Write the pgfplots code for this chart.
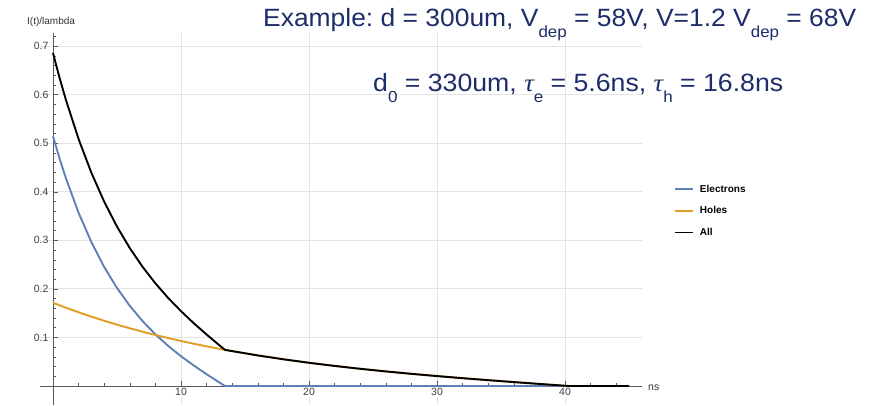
\documentclass[border=0pt]{standalone}
\usepackage{fontspec}
\setmainfont{Liberation Sans}
\newfontfamily\lserif{Liberation Serif}
\usepackage{graphicx}
\usepackage{pgfplots}
\pgfplotsset{compat=1.18}
\frenchspacing
\definecolor{ecol}{HTML}{5E81B5}
\definecolor{hcol}{HTML}{E19C24}
\definecolor{navy}{RGB}{30,45,105}
\definecolor{axcol}{gray}{0.35}
\newcommand{\sub}[1]{\raisebox{-0.42em}{\fontsize{16}{16}\selectfont #1}}
\newcommand{\tauit}{{\lserif\itshape τ}}
\pgfplotstableread{
t I
0 0.51428
0.5 0.46958
1 0.42864
2 0.35670
3 0.29617
4 0.24511
5 0.20188
6 0.16511
7 0.13361
8 0.10640
9 0.08257
10 0.06139
11 0.04218
12 0.02431
13 0.00722
13.428 0
45 0
}\electrons
\pgfplotstableread{
t I
0 0.17143
0.5 0.16632
1 0.16135
2 0.15185
3 0.14288
4 0.13442
5 0.12644
6 0.11890
7 0.11179
8 0.10507
9 0.09872
10 0.09273
11 0.08706
12 0.08170
13 0.07663
13.428 0.07455
14 0.07184
16 0.06299
18 0.05504
20 0.04786
22 0.04137
24 0.03547
26 0.03006
28 0.02509
30 0.02047
32 0.01614
34 0.01203
36 0.00810
38 0.00429
40 0.00053
40.285 0
45 0
}\holes
\pgfplotstableread{
t I
0 0.68571
0.5 0.63590
1 0.58999
2 0.50855
3 0.43905
4 0.37953
5 0.32832
6 0.28401
7 0.24540
8 0.21147
9 0.18129
10 0.15412
11 0.12924
12 0.10601
13 0.08385
13.428 0.07455
14 0.07184
16 0.06299
18 0.05504
20 0.04786
22 0.04137
24 0.03547
26 0.03006
28 0.02509
30 0.02047
32 0.01614
34 0.01203
36 0.00810
38 0.00429
40 0.00053
40.285 0
45 0
}\alltab
\begin{document}
\begin{tikzpicture}[x=1pt,y=1pt]
\useasboundingbox (0,0) rectangle (880,405);
\begin{axis}[
  at={(40.2pt,0pt)}, anchor=south west,
  scale only axis, width=601.6pt, height=372pt,
  xmin=-1, xmax=46, ymin=-0.0391, ymax=0.727,
  axis lines=middle,
  axis line style={-, draw=axcol, line width=0.6pt},
  xtick={10,20,30,40},
  ytick={0.1,0.2,0.3,0.4,0.5,0.6,0.7},
  minor xtick={2,4,6,8,12,14,16,18,22,24,26,28,32,34,36,38,42,44},
  minor ytick={0.02,0.04,0.06,0.08,0.12,0.14,0.16,0.18,0.22,0.24,0.26,0.28,0.32,0.34,0.36,0.38,0.42,0.44,0.46,0.48,0.52,0.54,0.56,0.58,0.62,0.64,0.66,0.68,0.72},
  tick align=inside,
  major tick length=5pt, minor tick length=3pt,
  every tick/.style={draw=axcol, line width=0.5pt},
  grid=major,
  major grid style={draw=gray!22, line width=0.9pt},
  ticklabel style={font=\fontsize{10.5}{12}\selectfont, text=black!75},
  /pgf/number format/assume math mode=true,
  yticklabel style={/pgf/number format/fixed, /pgf/number format/precision=1, /pgf/number format/fixed zerofill, xshift=-1pt},
  xticklabel style={fill=white, inner sep=1pt, yshift=-1pt},
  legend style={at={(rel axis cs:1.0535,0.597)}, anchor=north west, draw=none, fill=none, inner sep=0pt,
    font=\bfseries\fontsize{10}{12}\selectfont, row sep=9.7pt, column sep=5pt,
    nodes={inner sep=1pt, text height=8pt, text depth=2pt}},
  legend cell align=left,
  legend image code/.code={\draw[#1, line width=1.8pt] (0pt,0pt) -- (18pt,0pt);},
  clip=false,
]
\addplot[ecol, line width=1.9pt, line join=round] table[x=t,y=I] {\electrons};
\addlegendentry{Electrons}
\addplot[hcol, line width=1.9pt, line join=round] table[x=t,y=I] {\holes};
\addlegendentry{Holes}
\addplot[black, line width=1.9pt, line join=round] table[x=t,y=I] {\alltab};
\addlegendentry{All}
\end{axis}
\node[anchor=base west, inner sep=0pt, font=\fontsize{10}{12}\selectfont, text=black!80] at (27,380) {I(t)/lambda};
\node[anchor=base west, inner sep=0pt, font=\fontsize{10.5}{12}\selectfont, text=black!80] at (648,15) {ns};
\node[anchor=base west, inner sep=0pt, font=\fontsize{25}{30}\selectfont, text=navy] at (263,378.3)
  {\resizebox{593pt}{\height}{Example: d = 300um, V\sub{dep} = 58V, V=1.2 V\sub{dep} = 68V}};
\node[anchor=base west, inner sep=0pt, font=\fontsize{25}{30}\selectfont, text=navy] at (373,313.3)
  {\resizebox{410pt}{\height}{d\sub{0} = 330um, \tauit\sub{e} = 5.6ns, \tauit\sub{h} = 16.8ns}};
\end{tikzpicture}
\end{document}
